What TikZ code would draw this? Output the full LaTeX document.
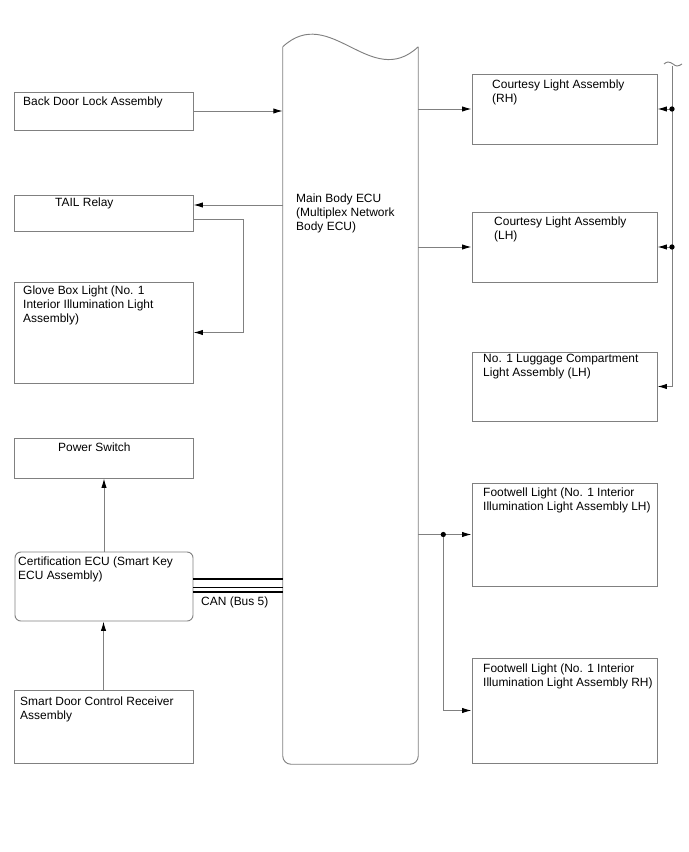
\documentclass[tikz,border=0pt]{standalone}
\usepackage{fontspec}
\setmainfont{Liberation Sans}
\usetikzlibrary{arrows.meta, fit, calc}
\definecolor{mygray}{RGB}{128,128,128}

\begin{document}
\begin{tikzpicture}[x=0.03cm, y=-0.03cm,
  box/.style={draw=mygray, line width=0.8pt, inner sep=0pt},
  txt/.style={anchor=north west, inner sep=0pt, align=left, font=\fontsize{10.2}{12}\selectfont},
  ln/.style={draw=mygray, line width=0.8pt},
  con/.style={ln, -{Latex[length=8pt, width=4.5pt, color=black]}},
  dot/.style={circle, fill=black, inner sep=0pt, minimum size=4.5pt}]
\useasboundingbox (0,0) rectangle (688,852);

% left column
\node[box, fit={(14,92) (193,130)}] (bdl) {};
\node[box, fit={(14,195) (193,231)}] (tail) {};
\node[box, fit={(14,282) (193,383)}] (glove) {};
\node[box, fit={(14,438) (193,478)}] (psw) {};
\node[box, fit={(15,552) (193,621)}, rounded corners=5pt] (cert) {};
\node[box, fit={(14,690) (193,763)}] (sdc) {};

% right column
\node[box, fit={(472,74) (657,144)}] (crh) {};
\node[box, fit={(472,212) (657,282)}] (clh) {};
\node[box, fit={(472,352) (657,421)}] (lug) {};
\node[box, fit={(472,483) (657,586)}] (fwl) {};
\node[box, fit={(472,658) (657,763)}] (fwr) {};

% main body ECU
\node[inner sep=0pt, fit={(283,47) (418,764)}] (ecu) {};
\draw[ln] (ecu.north west) .. controls (330,3) and (371,91) .. (ecu.north east);
\draw[ln, rounded corners=7pt] (ecu.north east) -- (ecu.south east) -- (ecu.south west) -- (ecu.north west);

% texts
\node[txt] (bdl-t) at (23,96.5) {Back Door Lock Assembly};
\node[txt] (tail-t) at (55,197.5) {TAIL Relay};
\node[txt] (glove-t) at (23,285.5) {Glove Box Light (No. 1\\Interior Illumination Light\\Assembly)};
\node[txt] (psw-t) at (58,442.5) {Power Switch};
\node[txt] (cert-t) at (18,556.5) {Certification ECU (Smart Key\\ECU Assembly)};
\node[txt] (sdc-t) at (20,696.5) {Smart Door Control Receiver\\Assembly};
\node[txt] (ecu-t) at (296,193.5) {Main Body ECU\\(Multiplex Network\\Body ECU)};
\node[txt] (crh-t) at (492,79.5) {Courtesy Light Assembly\\(RH)};
\node[txt] (clh-t) at (494,216.5) {Courtesy Light Assembly\\(LH)};
\node[txt] (lug-t) at (483,353.5) {No. 1 Luggage Compartment\\Light Assembly (LH)};
\node[txt] (fwl-t) at (483,487.5) {Footwell Light (No. 1 Interior\\Illumination Light Assembly LH)};
\node[txt] (fwr-t) at (483,663.5) {Footwell Light (No. 1 Interior\\Illumination Light Assembly RH)};
\node[txt] (can-t) at (201,596.5) {CAN (Bus 5)};

% left connectors
\draw[con] (bdl.east) -- (bdl.east -| ecu.west);
\coordinate (tailin) at ($(tail.east)+(0,-8)$);
\coordinate (tailout) at ($(tail.east)+(0,6)$);
\draw[con] (tailin -| ecu.west) -- (tailin);
\draw[con] (tailout) -- ++(50,0) |- (glove.east);
\draw[con] (cert.north) -- (cert.north |- psw.south);
\draw[con] (sdc.north) -- (sdc.north |- cert.south);

% CAN bus
\foreach \dy/\lw [count=\i] in {-7.5/2.4pt, 0.5/0.8pt, 5.5/2.4pt}{
  \coordinate (can\i) at ($(cert.east)+(0,\dy)$);
  \draw[line width=\lw] (can\i) -- (can\i -| ecu.west);
}

% right connectors
\draw[con] (crh.west -| ecu.east) -- (crh.west);
\draw[con] (clh.west -| ecu.east) -- (clh.west);
\draw[con] (fwl.west -| ecu.east) -- (fwl.west);
\node[dot] (split) at ($(fwl.west -| ecu.east)!0.47!(fwl.west)$) {};
\draw[con] (split) |- (fwr.west);

% courtesy light bus
\coordinate (bustop) at (672,66);
\draw[ln] (664,64) sin (668,62) cos (673,64) sin (677,66) cos (682,64);
\draw[con] (bustop) -- (bustop |- lug.east) -- (lug.east);
\draw[con] (bustop |- crh.east) -- (crh.east);
\draw[con] (bustop |- clh.east) -- (clh.east);
\node[dot] at (bustop |- crh.east) {};
\node[dot] at (bustop |- clh.east) {};

\end{tikzpicture}
\end{document}
